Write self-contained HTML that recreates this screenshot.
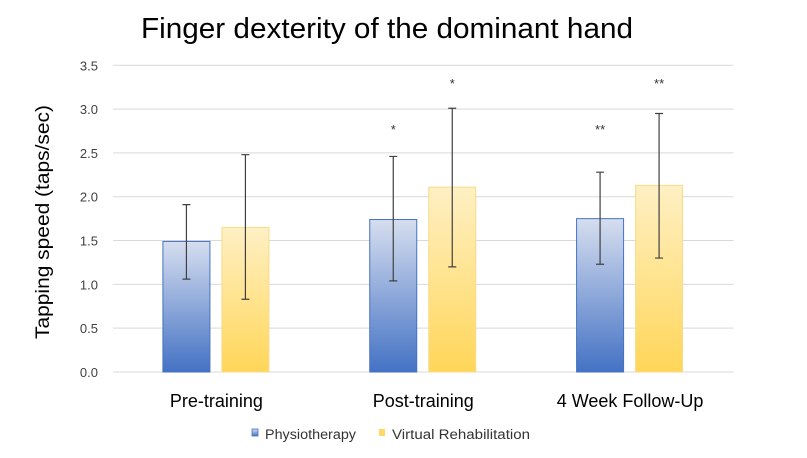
<!DOCTYPE html>
<html><head><meta charset="utf-8"><style>
body{margin:0;background:#fff;}
svg text{font-family:"Liberation Sans",sans-serif;}
</style></head><body>
<svg id="chart" width="807" height="453" viewBox="0 0 807 453">
<defs>
<linearGradient id="gBlue" x1="0" y1="0" x2="0" y2="1"><stop offset="0" stop-color="#d6deef"/><stop offset="1" stop-color="#4472c4"/></linearGradient>
<linearGradient id="gYel" x1="0" y1="0" x2="0" y2="1"><stop offset="0" stop-color="#fff0c4"/><stop offset="1" stop-color="#ffd659"/></linearGradient>
</defs>
<text x="387" y="38" font-size="29" text-anchor="middle" fill="#000" textLength="492" lengthAdjust="spacingAndGlyphs">Finger dexterity of the dominant hand</text>
<text transform="translate(49,222) rotate(-90)" font-size="19" text-anchor="middle" fill="#000" textLength="234" lengthAdjust="spacingAndGlyphs">Tapping speed (taps/sec)</text>
<g id="grid"></g><g id="bars"></g>
<g>
<rect x="252" y="429" width="6" height="7" fill="url(#gBlue)" stroke="#4472c4" stroke-width="0.8"/>
<text x="265" y="439" font-size="13.5" fill="#333" textLength="91" lengthAdjust="spacingAndGlyphs">Physiotherapy</text>
<rect x="379" y="429" width="6" height="7" fill="#ffd966"/>
<text x="392" y="439" font-size="13.5" fill="#333" textLength="138" lengthAdjust="spacingAndGlyphs">Virtual Rehabilitation</text>
</g>
</svg>
<script>
const categories = ["Pre-training","Post-training","4 Week Follow-Up"];
const physio = [1.49, 1.74, 1.75];
const vr = [1.65, 2.11, 2.13];
const physioHi = [1.91, 2.46, 2.28];
const physioLo = [1.06, 1.04, 1.23];
const vrHi = [2.48, 3.01, 2.95];
const vrLo = [0.83, 1.20, 1.30];
const physioSig = ["", "*", "**"];
const vrSig = ["", "*", "**"];
const yTicks = [0,0.5,1,1.5,2,2.5,3,3.5];

const NS="http://www.w3.org/2000/svg";
const left=113, right=733.5, y0=372, y35=65.3;
const y=v=>y0-(v/3.5)*(y0-y35);
const bw=(right-left)/categories.length;
const cx=i=>left+bw*(i+0.5);
function mk(tag,attrs,parent){const e=document.createElementNS(NS,tag);for(const k in attrs)e.setAttribute(k,attrs[k]);parent.appendChild(e);return e;}
const grid=document.getElementById('grid'), bars=document.getElementById('bars');
yTicks.forEach(t=>{
  const l=mk('line',{x1:left,x2:right,y1:y(t),y2:y(t),stroke:'#d9d9d9','stroke-width':1},grid);
  
  
  const tx=mk('text',{x:98,y:y(t)+5,'font-size':13,'text-anchor':'end',fill:'#404040'},grid);
  tx.textContent=t.toFixed(1);
  
  
});
function bar(i,v,hi,lo,sig,sigLevel,off,fill,stroke,name){
  const x0=cx(i)+off;
  const r=mk('rect',{x:x0,y:y(v),width:47,height:y0-y(v),fill:fill,stroke:stroke,'stroke-width':1},bars);
  
  
  const m=x0+23.5;
  const eb=mk('path',{d:`M${m},${y(hi)}V${y(lo)}M${m-4},${y(hi)}H${m+4}M${m-4},${y(lo)}H${m+4}`,stroke:'#404040','stroke-width':1.2,fill:'none'},bars);
  
  
  if(sig){const s=mk('text',{x:m,y:y(sigLevel)+8,'font-size':13,'text-anchor':'middle',fill:'#333'},bars);s.textContent=sig;
  
  }
}
categories.forEach((c,i)=>{
  bar(i,physio[i],physioHi[i],physioLo[i],physioSig[i],2.81,-53.5,'url(#gBlue)','#4472c4','bar-physiotherapy');
  bar(i,vr[i],vrHi[i],vrLo[i],vrSig[i],3.33,5.5,'url(#gYel)','#f5dc8a','bar-virtual-rehabilitation');
  const t=mk('text',{x:cx(i),y:407,'font-size':18,'text-anchor':'middle',fill:'#000'},bars);
  t.textContent=c;
  
  
});
</script>
</body></html>
